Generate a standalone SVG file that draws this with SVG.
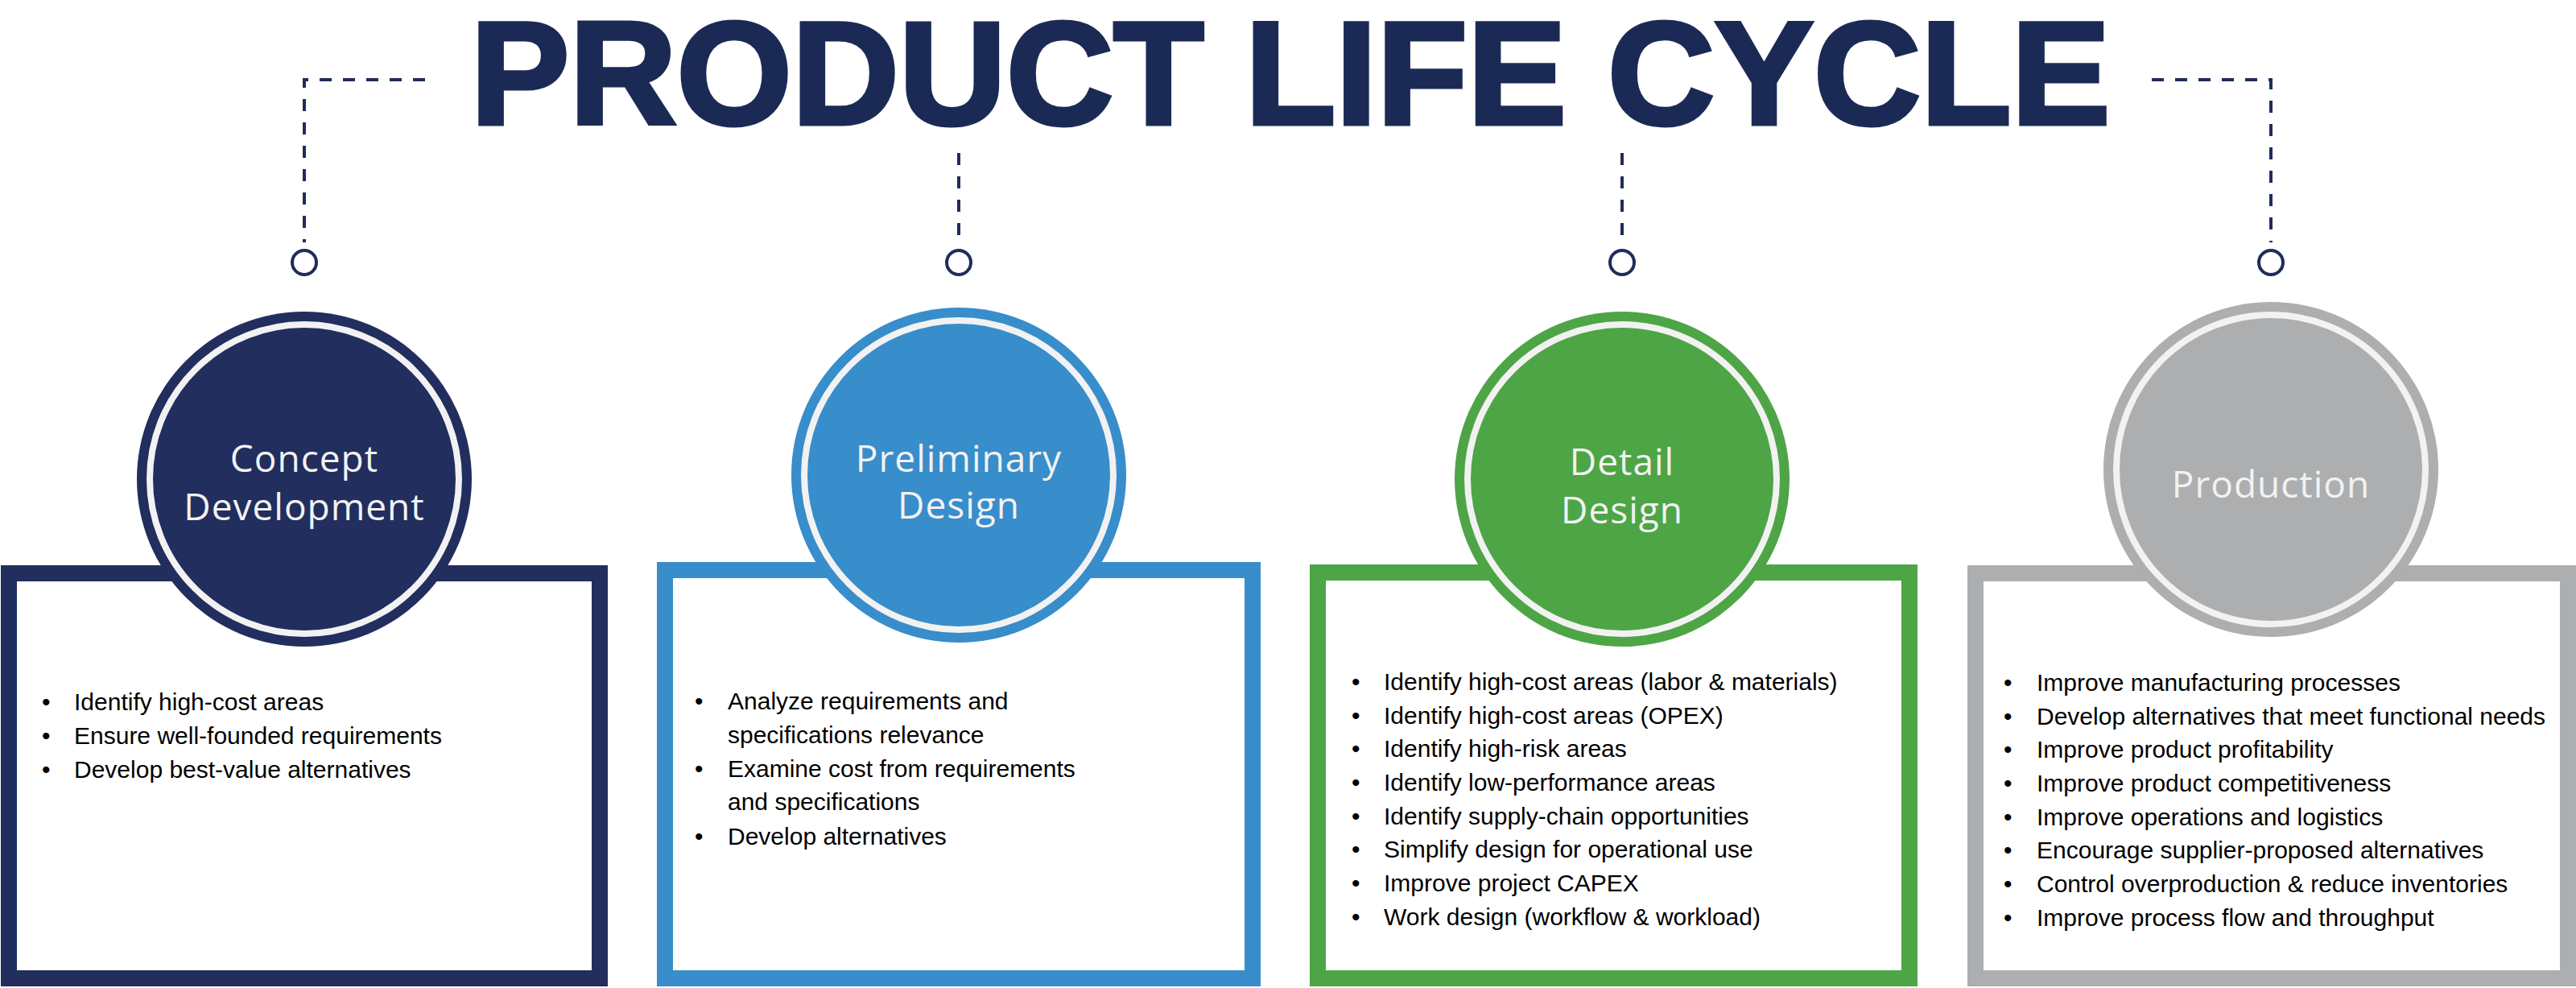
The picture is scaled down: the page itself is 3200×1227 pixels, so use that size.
<svg xmlns="http://www.w3.org/2000/svg" width="3200" height="1227" viewBox="0 0 3200 1227">
<style>
.title{font-family:"Liberation Sans",Arial,sans-serif;font-weight:bold;font-size:182px;fill:#1b2a55;stroke:#1b2a55;stroke-width:5;text-anchor:middle}
.lbl{font-family:"Open Sans","Noto Sans",sans-serif;font-size:46px;fill:#f2f2f2;text-anchor:middle;letter-spacing:1px}
.b{font-family:"Liberation Sans",Arial,sans-serif;font-size:30px;fill:#000}
.dash{fill:none;stroke:#1f2d5c;stroke-width:4;stroke-dasharray:15 14}
.dot{fill:#fff;stroke:#1f2d5c;stroke-width:4}
.ring{fill:none;stroke:#f2f2f2;stroke-width:8}
</style>
<rect width="3200" height="1227" fill="#fff"/>
<text id="title" class="title" x="1603" y="154" textLength="2037" lengthAdjust="spacingAndGlyphs">PRODUCT LIFE CYCLE</text>
<g id="connectors">
<path class="dash" d="M528 99H378V301"/>
<path class="dash" d="M1191 190V301"/>
<path class="dash" d="M2015 190V301"/>
<path class="dash" d="M2673 99H2821V301"/>
<circle class="dot" cx="378" cy="326" r="15"/>
<circle class="dot" cx="1191" cy="326" r="15"/>
<circle class="dot" cx="2015" cy="326" r="15"/>
<circle class="dot" cx="2821" cy="326" r="15"/>
</g>
<g id="concept">
<rect x="11" y="712" width="734" height="503" fill="#fff" stroke="#212e5e" stroke-width="20"/>
<circle cx="378" cy="595" r="208" fill="#212e5e"/>
<circle class="ring" cx="378" cy="595" r="192"/>
<text class="lbl" x="378" y="586">Concept</text>
<text class="lbl" x="378" y="646">Development</text>
<g class="b"><text x="52" y="882">•</text><text x="92" y="882">Identify high-cost areas</text>
<text x="52" y="924">•</text><text x="92" y="924">Ensure well-founded requirements</text>
<text x="52" y="966">•</text><text x="92" y="966">Develop best-value alternatives</text></g>
</g>
<g id="preliminary">
<rect x="826" y="708" width="730" height="507" fill="#fff" stroke="#388dcb" stroke-width="20"/>
<circle cx="1191" cy="590" r="208" fill="#388dcb"/>
<circle class="ring" cx="1191" cy="590" r="192"/>
<text class="lbl" x="1191" y="586">Preliminary</text>
<text class="lbl" x="1191" y="644">Design</text>
<g class="b"><text x="863" y="881">•</text><text x="904" y="881">Analyze requirements and</text>
<text x="904" y="923">specifications relevance</text>
<text x="863" y="965">•</text><text x="904" y="965">Examine cost from requirements</text>
<text x="904" y="1006">and specifications</text>
<text x="863" y="1049">•</text><text x="904" y="1049">Develop alternatives</text></g>
</g>
<g id="detail">
<rect x="1637" y="711" width="735" height="504" fill="#fff" stroke="#4ea546" stroke-width="20"/>
<circle cx="2015" cy="595" r="208" fill="#4ea546"/>
<circle class="ring" cx="2015" cy="595" r="192"/>
<text class="lbl" x="2015" y="590">Detail</text>
<text class="lbl" x="2015" y="650">Design</text>
<g class="b"><text x="1679" y="857">•</text><text x="1719" y="857">Identify high-cost areas (labor &amp; materials)</text>
<text x="1679" y="899">•</text><text x="1719" y="899">Identify high-cost areas (OPEX)</text>
<text x="1679" y="940">•</text><text x="1719" y="940">Identify high-risk areas</text>
<text x="1679" y="982">•</text><text x="1719" y="982">Identify low-performance areas</text>
<text x="1679" y="1024">•</text><text x="1719" y="1024">Identify supply-chain opportunities</text>
<text x="1679" y="1065">•</text><text x="1719" y="1065">Simplify design for operational use</text>
<text x="1679" y="1107">•</text><text x="1719" y="1107">Improve project CAPEX</text>
<text x="1679" y="1149">•</text><text x="1719" y="1149">Work design (workflow &amp; workload)</text></g>
</g>
<g id="production">
<rect x="2454" y="712" width="736" height="503" fill="#fff" stroke="#adaeaf" stroke-width="20"/>
<circle cx="2821" cy="583" r="208" fill="#adaeaf"/>
<circle class="ring" cx="2821" cy="583" r="192"/>
<text class="lbl" x="2821" y="618">Production</text>
<g class="b"><text x="2489" y="858">•</text><text x="2530" y="858">Improve manufacturing processes</text>
<text x="2489" y="900">•</text><text x="2530" y="900">Develop alternatives that meet functional needs</text>
<text x="2489" y="941">•</text><text x="2530" y="941">Improve product profitability</text>
<text x="2489" y="983">•</text><text x="2530" y="983">Improve product competitiveness</text>
<text x="2489" y="1025">•</text><text x="2530" y="1025">Improve operations and logistics</text>
<text x="2489" y="1066">•</text><text x="2530" y="1066">Encourage supplier-proposed alternatives</text>
<text x="2489" y="1108">•</text><text x="2530" y="1108">Control overproduction &amp; reduce inventories</text>
<text x="2489" y="1150">•</text><text x="2530" y="1150">Improve process flow and throughput</text></g>
</g>
</svg>
